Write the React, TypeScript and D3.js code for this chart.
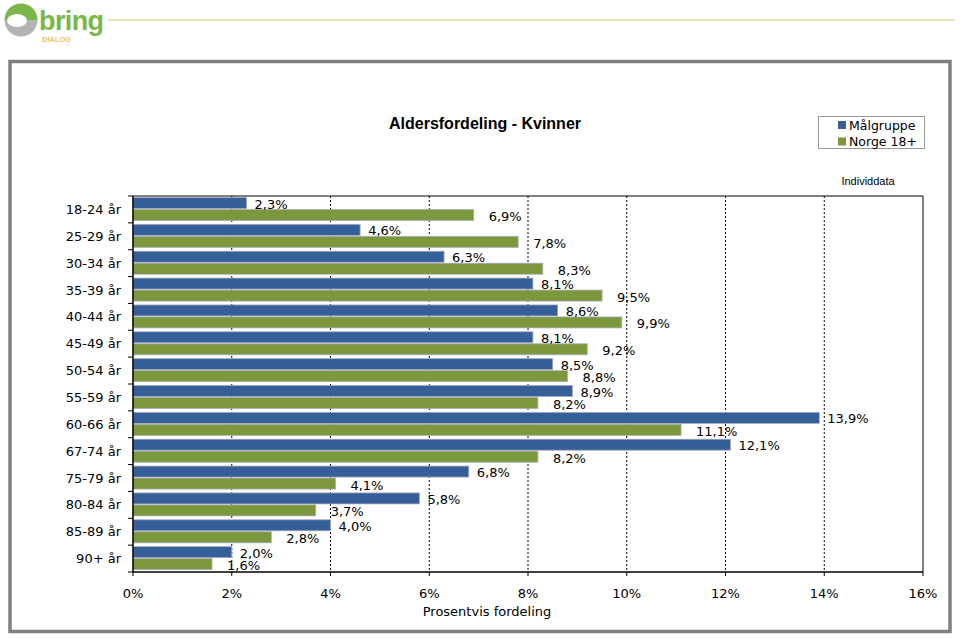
import { scaleBand, scaleLinear, range } from "d3";

const categories = [
  "18-24 år", "25-29 år", "30-34 år", "35-39 år", "40-44 år", "45-49 år", "50-54 år",
  "55-59 år", "60-66 år", "67-74 år", "75-79 år", "80-84 år", "85-89 år", "90+ år",
];
const malgruppe = [2.3, 4.6, 6.3, 8.1, 8.6, 8.1, 8.5, 8.9, 13.9, 12.1, 6.8, 5.8, 4.0, 2.0];
const norge = [6.9, 7.8, 8.3, 9.5, 9.9, 9.2, 8.8, 8.2, 11.1, 8.2, 4.1, 3.7, 2.8, 1.6];
const xTicks = [0, 2, 4, 6, 8, 10, 12, 14, 16];
const seriesNames = ["Målgruppe", "Norge 18+"];

const BLUE = "#355f98";
const GREEN = "#7b983d";
const FONT = "'DejaVu Sans', Verdana, sans-serif";
const ARIAL = "'Liberation Sans', Arial, sans-serif";

const fmt = (v: number) => v.toFixed(1).replace(".", ",") + "%";

export default function App() {
  const W = 960;
  const H = 639;
  const left = 133;
  const right = 923;
  const top = 196;
  const bottom = 572;

  const x = scaleLinear().domain([0, 16]).range([left, right]);
  const y = scaleBand<string>().domain(categories).range([top, bottom]);
  const bw = y.bandwidth();
  const barH = 11;

  return (
    <svg width={W} height={H} style={{ position: "absolute", left: 0, top: 0 }}>
      <rect x={0} y={0} width={W} height={H} fill="#fff" />

      {/* logo */}
      <g>
        <clipPath id="topHalf"><rect x={0} y={0} width={60} height={20} /></clipPath>
        <clipPath id="botHalf"><rect x={0} y={20} width={60} height={30} /></clipPath>
        <circle cx={21} cy={20} r={16.5} fill="#7ab648" clipPath="url(#topHalf)" />
        <circle cx={21} cy={20} r={16.5} fill="#b4b4b4" clipPath="url(#botHalf)" />
        <ellipse cx={17} cy={20.5} rx={10} ry={6.5} fill="#fff" />
        <text x={39} y={30} fontFamily={ARIAL} fontWeight="bold" fontSize={27} fill="#7ab648" letterSpacing={-0.6}>bring</text>
        <text x={42} y={42} fontFamily={ARIAL} fontWeight="bold" fontSize={7.5} fill="#e8c35a">DIALOG</text>
        <line x1={108} x2={955} y1={20} y2={20} stroke="#ebe3b5" strokeWidth={2} />
      </g>

      {/* frame */}
      <rect x={10} y={61.5} width={940} height={570} fill="none" stroke="#808080" strokeWidth={3.5} />

      {/* title */}
      <text x={485} y={129} textAnchor="middle" fontFamily={ARIAL} fontWeight="bold" fontSize={16}>
        Aldersfordeling - Kvinner
      </text>

      {/* legend */}
      <rect x={818.5} y={116.5} width={106} height={32} fill="#fff" stroke="#999" strokeWidth={1} />
      {seriesNames.map((n, i) => (
        <g key={n}>
          <rect x={838} y={121 + i * 16.5} width={8} height={8} fill={i === 0 ? BLUE : GREEN} />
          <text x={849} y={125 + i * 16.5} dominantBaseline="central" fontFamily={FONT} fontSize={12.5}>{n}</text>
        </g>
      ))}
      <text x={868} y={185} textAnchor="middle" fontFamily={ARIAL} fontSize={11}>Individdata</text>

      {/* grid */}
      {xTicks.slice(1, -1).map((t) => (
        <line key={t} x1={x(t)} x2={x(t)} y1={top} y2={bottom} stroke="#000" strokeWidth={1} strokeDasharray="2,2" />
      ))}

      {/* bars */}
      {categories.map((c, i) => {
        const y0 = (y(c) as number) + 1.5;
        return (
          <g key={c}>
            <rect x={x(0)} y={y0} width={x(malgruppe[i]) - x(0)} height={barH} fill={BLUE} stroke="#aab" strokeWidth={0.8} />
            <rect x={x(0)} y={y0 + barH + 1} width={x(norge[i]) - x(0)} height={barH} fill={GREEN} stroke="#aab" strokeWidth={0.8} />
            <text x={x(malgruppe[i]) + 8} y={y0 + barH / 2 + 1} dominantBaseline="central" fontFamily={FONT} fontSize={13}>
              {fmt(malgruppe[i])}
            </text>
            <text x={x(norge[i]) + 15} y={y0 + barH * 1.5 + 2.5} dominantBaseline="central" fontFamily={FONT} fontSize={13}>
              {fmt(norge[i])}
            </text>
          </g>
        );
      })}

      {/* plot border */}
      <line x1={left} x2={right} y1={top} y2={top} stroke="#000" strokeWidth={1} />
      <line x1={right} x2={right} y1={top} y2={bottom} stroke="#000" strokeWidth={1} />

      {/* y axis */}
      <line x1={left} x2={left} y1={top} y2={bottom} stroke="#000" strokeWidth={1.5} />
      {range(categories.length + 1).map((k) => (
        <line key={k} x1={left - 5} x2={left} y1={top + k * bw} y2={top + k * bw} stroke="#000" strokeWidth={1} />
      ))}
      {categories.map((c) => (
        <text key={c} x={121} y={(y(c) as number) + bw / 2} textAnchor="end" dominantBaseline="central" fontFamily={FONT} fontSize={13}>
          {c}
        </text>
      ))}

      {/* x axis */}
      <line x1={left} x2={right} y1={bottom} y2={bottom} stroke="#000" strokeWidth={1.5} />
      {xTicks.map((t) => (
        <g key={t}>
          <line x1={x(t)} x2={x(t)} y1={bottom} y2={bottom + 4} stroke="#000" strokeWidth={1} />
          <text x={x(t)} y={598} textAnchor="middle" fontFamily={FONT} fontSize={13}>{t}%</text>
        </g>
      ))}
      <text x={487} y={616} textAnchor="middle" fontFamily={FONT} fontSize={13}>Prosentvis fordeling</text>
    </svg>
  );
}
